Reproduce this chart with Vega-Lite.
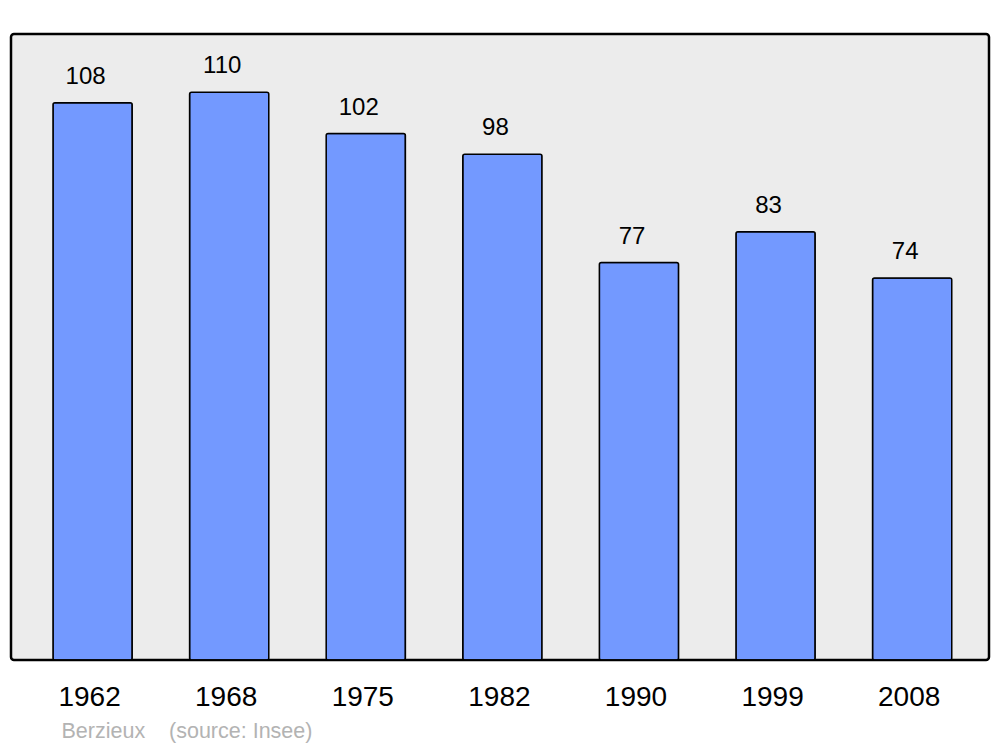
{
  "$schema": "https://vega.github.io/schema/vega-lite/v6.json",
  "width": 978,
  "height": 626,
  "autosize": "none",
  "padding": {"left": 11, "top": 34, "right": 11, "bottom": 87},
  "background": "white",
  "config": {
    "font": "Liberation Sans",
    "view": {"fill": "#ececec", "stroke": "#000000", "strokeWidth": 2.5, "cornerRadius": 3}
  },
  "data": {
    "values": [
      {"year": "1962", "pop": 108},
      {"year": "1968", "pop": 110},
      {"year": "1975", "pop": 102},
      {"year": "1982", "pop": 98},
      {"year": "1990", "pop": 77},
      {"year": "1999", "pop": 83},
      {"year": "2008", "pop": 74}
    ]
  },
  "encoding": {
    "x": {
      "field": "year",
      "type": "ordinal",
      "sort": null,
      "scale": {"paddingInner": 0.42, "paddingOuter": 0.29, "align": 0.53},
      "axis": {
        "title": "Berzieux\u00a0\u00a0\u00a0\u00a0(source: Insee)",
        "labelAngle": 0,
        "labelFontSize": 28,
        "labelColor": "#000000",
        "labelBaseline": "alphabetic",
        "labelPadding": 45,
        "labelOffset": -3,
        "ticks": false,
        "domain": false,
        "grid": false,
        "titleAnchor": "start",
        "titleAlign": "left",
        "titleX": 50,
        "titleY": 77,
        "titleFontSize": 21.5,
        "titleFontWeight": "normal",
        "titleColor": "#b3b3b3",
        "titleBaseline": "alphabetic"
      }
    },
    "y": {
      "field": "pop",
      "type": "quantitative",
      "scale": {"domain": [0, 121.3], "nice": false},
      "axis": null
    }
  },
  "layer": [
    {
      "mark": {"type": "bar", "fill": "#7399ff", "stroke": "#000000", "strokeWidth": 1.5, "cornerRadius": 2}
    },
    {
      "mark": {"type": "text", "baseline": "alphabetic", "dy": -19, "dx": -7, "fontSize": 24, "color": "#000000"},
      "encoding": {"text": {"field": "pop", "type": "quantitative"}}
    }
  ]
}
